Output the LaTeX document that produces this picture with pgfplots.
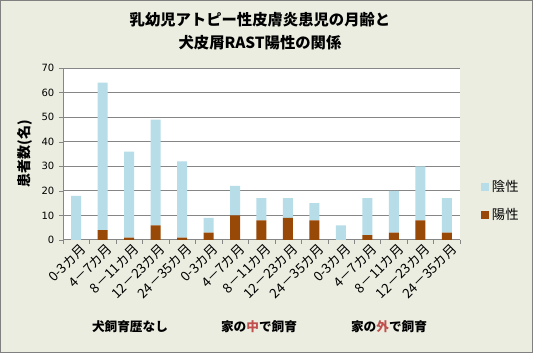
\documentclass[border=0pt]{standalone}
\usepackage{fontspec}
\setmainfont{Noto Sans CJK JP}
\newfontfamily\dv{DejaVu Sans}
\usepackage{pgfplots}
\pgfplotsset{compat=1.18}
\definecolor{neg}{RGB}{183,221,232}
\definecolor{pos}{RGB}{152,72,7}
\definecolor{bg}{RGB}{235,237,224}
\definecolor{gridc}{RGB}{134,134,134}
\definecolor{redt}{RGB}{192,80,77}
\begin{document}
\begin{tikzpicture}
\fill[bg] (0,0) rectangle (399.75pt,264.75pt);
\draw[gray, line width=0.75pt] (0.375pt,0.375pt) rectangle (399.375pt,264.375pt);
\begin{axis}[
 at={(47.25pt,84.75pt)}, anchor=south west,
 scale only axis, width=297.75pt, height=129pt,
 axis background/.style={fill=white},
 ybar stacked, bar width=7.5pt,
 xmin=-0.5, xmax=14.5, ymin=0, ymax=70,
 ytick={0,10,...,70},
 xtick={-0.5,0.5,...,14.5}, xticklabels={},
 extra x ticks={0,...,14},
 extra x tick labels={0-3カ月,4－7カ月,8－11カ月,12－23カ月,24－35カ月,0-3カ月,4－7カ月,8－11カ月,12－23カ月,24－35カ月,0-3カ月,4－7カ月,8－11カ月,12－23カ月,24－35カ月},
 extra x tick style={major tick length=0pt, grid=none},
 x tick label style={rotate=45, anchor=north east, font=\fontsize{10}{11}\selectfont, inner sep=1pt, yshift=-2pt, xshift=1.5pt},
 y tick label style={font=\dv\fontsize{7.5}{9}\selectfont},
 /pgf/number format/assume math mode=true,
 tick align=outside, major tick length=3pt,
 tick style={draw=gridc},
 ymajorgrids, grid style={draw=gridc, line width=0.75pt},
 axis x line*=bottom, axis y line*=left,
 axis line style={draw=gridc, line width=0.75pt},
 ylabel={\bfseries 患者数(名)},
 ylabel style={at={(axis description cs:-0.095,0.5)}, anchor=center, font=\fontsize{10.5}{11}\selectfont},
 legend entries={陽性,陰性}, reverse legend,
 legend style={at={(1.053,0.227)}, anchor=west, draw=none, fill=none, font=\fontsize{10}{11}\selectfont, row sep=7pt, inner sep=0pt},
 legend cell align=left,
 legend image code/.code={\fill[#1] (0pt,-3pt) rectangle (6pt,3pt);},
 clip=false,
]
\addplot[fill=pos, draw=none] coordinates {(0,0) (1,4) (2,1) (3,6) (4,1) (5,3) (6,10) (7,8) (8,9) (9,8) (10,0) (11,2) (12,3) (13,8) (14,3)};
\addplot[fill=neg, draw=none] coordinates {(0,18) (1,60) (2,35) (3,43) (4,31) (5,6) (6,12) (7,9) (8,8) (9,7) (10,6) (11,15) (12,17) (13,22) (14,14)};
\end{axis}
\node[font=\bfseries\fontsize{11.5}{13}\selectfont] at (195pt,249.75pt) {乳幼児アトピー性皮膚炎患児の月齢と};
\node[font=\bfseries\fontsize{11.5}{13}\selectfont] at (195pt,232.5pt) {犬皮屑RAST陽性の関係};
\node[font=\bfseries\fontsize{9.5}{11}\selectfont] at (97.5pt,19.5pt) {犬飼育歴なし};
\node[font=\bfseries\fontsize{9.5}{11}\selectfont] at (194.25pt,19.5pt) {家の\textcolor{redt}{中}で飼育};
\node[font=\bfseries\fontsize{9.5}{11}\selectfont] at (291.75pt,19.5pt) {家の\textcolor{redt}{外}で飼育};
\end{tikzpicture}
\end{document}
